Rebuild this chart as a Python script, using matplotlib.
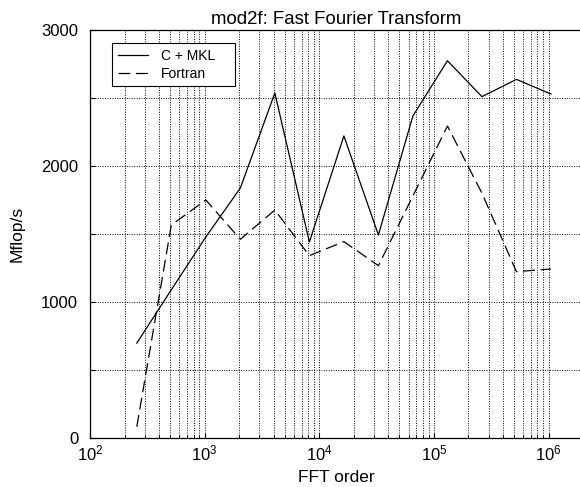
import matplotlib
matplotlib.use("Agg")
import matplotlib.pyplot as plt
import numpy as np
from matplotlib.ticker import LogLocator, MultipleLocator, FuncFormatter, NullFormatter

# FFT sizes 2^8 .. 2^20
fft_order = [256, 512, 1024, 2048, 4096, 8192, 16384, 32768, 65536,
             131072, 262144, 524288, 1048576]
c_mkl = [698, 1090, 1478, 1838, 2537, 1441, 2221, 1493, 2368,
         2774, 2510, 2637, 2529]
fortran = [83, 1566, 1750, 1461, 1676, 1341, 1444, 1267, 1780,
           2294, 1800, 1223, 1243]

plt.rcParams.update({"font.family": ["Liberation Sans", "DejaVu Sans"],
                     "font.size": 11})

fig = plt.figure(figsize=(5.8, 4.87), dpi=100)
ax = fig.add_axes([90 / 580, 49 / 487, 493 / 580, 408 / 487])

ax.plot(fft_order, c_mkl, "k-", lw=0.9, label="C + MKL")
ax.plot(fft_order, fortran, "k--", lw=0.9, dashes=(9.5, 4.5), label="Fortran")

ax.set_xscale("log")
ax.set_xlim(1e2, 10 ** 6.3)
ax.set_ylim(0, 3000)
ax.xaxis.set_major_locator(LogLocator(base=10, numticks=10))
ax.xaxis.set_minor_locator(LogLocator(base=10, subs=np.arange(2, 10), numticks=20))
ax.xaxis.set_minor_formatter(NullFormatter())
ax.yaxis.set_major_locator(MultipleLocator(500))
ax.yaxis.set_major_formatter(FuncFormatter(
    lambda v, p: f"{int(v)}" if v % 1000 == 0 else ""))

ax.grid(True, which="both", axis="x", color="k", ls=(0, (1, 1.5)), lw=0.7)
ax.grid(True, which="major", axis="y", color="k", ls=(0, (1, 1.5)), lw=0.7)
ax.tick_params(which="both", direction="in", top=False, right=False)
ax.tick_params(axis="x", labelsize=12, pad=4)
ax.tick_params(axis="y", labelsize=12, pad=8.5)
for s in ax.spines.values():
    s.set_linewidth(0.9)

ax.set_xlabel("FFT order", fontsize=12.5, labelpad=5)
ax.set_ylabel("Mflop/s", fontsize=12.5, labelpad=12)
ax.set_title("mod2f: Fast Fourier Transform", fontsize=13.4, pad=4)

# legend box: 112..235 px wide, top at 43 px
leg = ax.legend(loc="upper left", bbox_to_anchor=(0.0446, 0.868, 0.2495, 0.1),
                mode="expand", borderaxespad=0, fancybox=False, edgecolor="k",
                framealpha=1, fontsize=10, handlelength=2.2, handletextpad=0.9,
                labelspacing=0.3, borderpad=0.4)
leg.get_frame().set_linewidth(0.8)

fig.savefig("out.png", dpi=100)
